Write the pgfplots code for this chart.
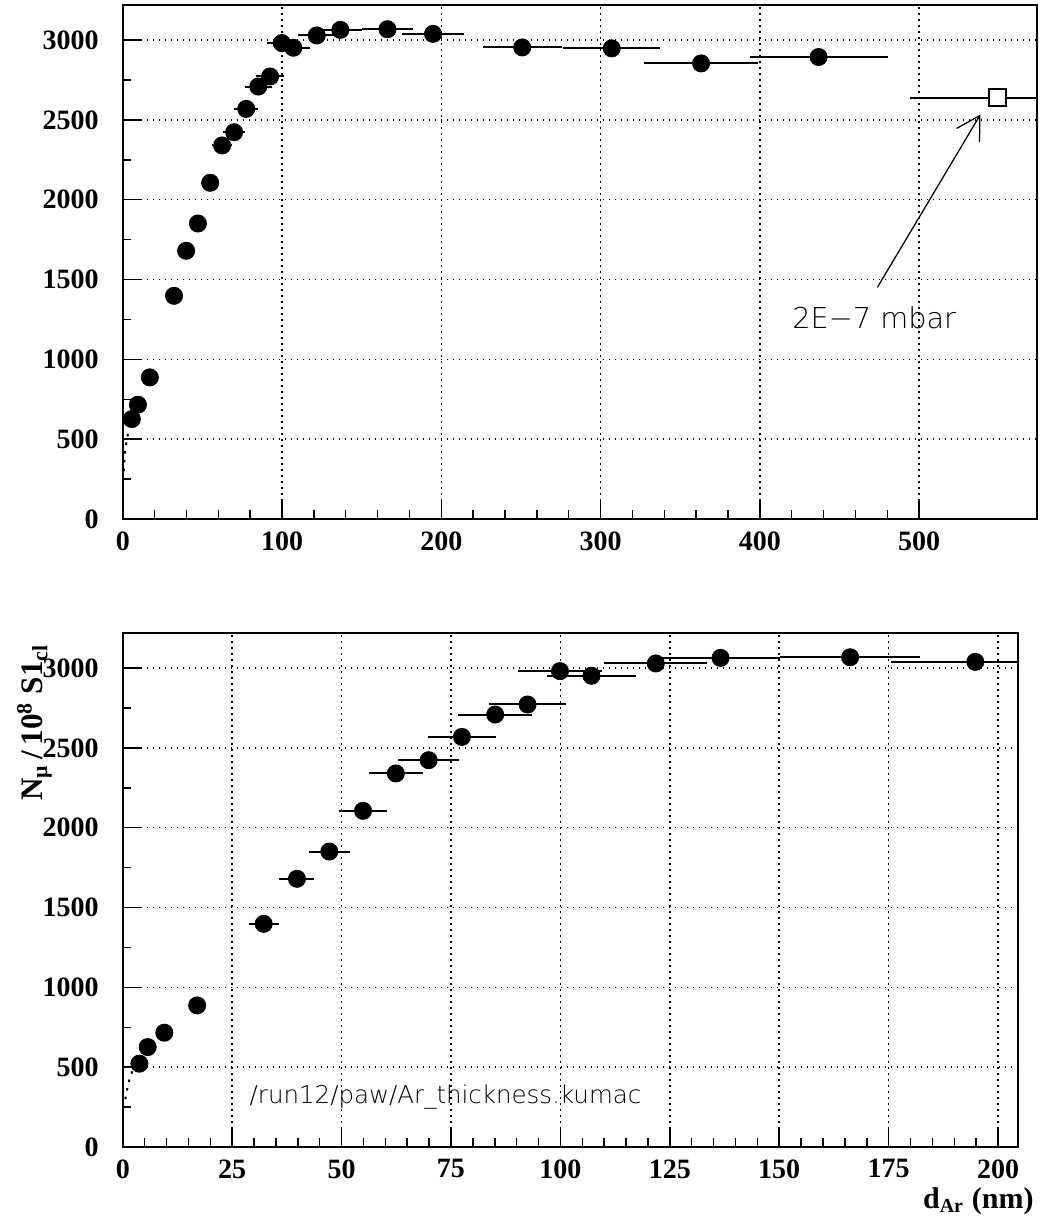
\documentclass[border=0pt]{standalone}
\usepackage{fontspec}
\setmainfont{Liberation Serif}
\newfontfamily\higz{DejaVu Sans ExtraLight}
\usepackage{pgfplots}
\pgfplotsset{compat=1.18}
\usepackage{pgfplotstable}
\usetikzlibrary{arrows.meta}

% muon yield vs. argon layer thickness: x = d_Ar (nm), y = N_mu/10^8 S1_cl, ex = half bin width
\pgfplotstableread{
x     y     ex
3.8   522   0.4
}\thinrun
\pgfplotstableread{
x     y     ex
5.7   626   0.6
9.5   716   1.0
17.0  887   1.7
32.2  1398  3.4
39.8  1680  4.0
47.2  1851  4.7
54.9  2106  5.5
62.4  2340  6.2
69.9  2423  7.0
77.5  2569  7.7
85.1  2709  8.4
92.5  2772  8.8
99.9  2981  9.5
107.1 2952  10.2
121.8 3029  11.8
136.6 3064  13.5
166.2 3068  16.0
194.8 3039  19.3
250.8 2954  24.7
307.0 2948  30.3
363.1 2854  36.0
436.9 2894  43.4
}\runs
% fit curve near zero thickness
\pgfplotstableread{
x    y
0.6  300
1.0  360
1.5  420
2.0  460
2.5  495
3.0  520
3.5  540
}\fitcurve

\pgfplotsset{
  paw/.style={
    scale only axis, anchor=south west,
    axis line style={line width=0.8pt},
    tick align=inside, tick pos=left,
    major tick length=7.2pt, minor tick length=3.4pt,
    every tick/.style={black, line width=0.6pt},
    grid=major,
    major grid style={black, line width=0.6pt, dash pattern=on 0.6pt off 1.8pt},
    ymin=0, ymax=3220, ytick={0,500,...,3000}, minor y tick num=1,
    scaled ticks=false,
    tick label style={font=\fontsize{11.2}{13}\selectfont\bfseries},
    /pgf/number format/assume math mode=true,
    /pgf/number format/1000 sep={},
    yticklabel style={inner sep=0pt, anchor=east, xshift=-9.5pt},
    xticklabel style={inner sep=0pt, anchor=north, yshift=-4.8pt},
  },
  pts/.style={only marks, mark=*, mark size=3.4pt, black,
    error bars/.cd, x dir=both, x explicit, error mark=none,
    error bar style={line width=0.8pt, black}},
  fit/.style={black, line width=0.8pt, dash pattern=on 1pt off 2.5pt},
}

\begin{document}
\begin{tikzpicture}
\useasboundingbox (0,0) rectangle (416.4pt,488.8pt);

% full thickness range
\begin{axis}[paw, at={(49.1pt,281.2pt)}, width=365.7pt, height=205.6pt,
  xmin=0, xmax=574, xtick={0,100,...,500}, minor x tick num=4]
  \addplot[fit] table[x=x, y=y] {\fitcurve};
  \addplot[pts] table[x=x, y=y, x error=ex] {\runs};
  \addplot[only marks, mark=square*, mark size=3.4pt,
    mark options={fill=white, draw=black, line width=0.8pt},
    error bars/.cd, x dir=both, x explicit, error mark=none,
    error bar style={line width=0.8pt, black}]
    coordinates {(549,2640) +- (55,0)};
  \draw[line width=0.5pt, -{Straight Barb[length=9.2pt, width=10.7pt, line width=0.5pt]}]
    (axis cs:473.8,1451) -- (axis cs:538.5,2534);
  \node[anchor=base west, inner sep=0pt, font=\higz\fontsize{11.5}{13}\selectfont]
    at (axis cs:420.1,1194) {2E−7 mbar};
\end{axis}

% zoom on the first 200 nm
\begin{axis}[paw, at={(49.1pt,30pt)}, width=358pt, height=205.6pt,
  xmin=0, xmax=204.5, xtick={0,25,...,200}, minor x tick num=4]
  \addplot[fit] table[x=x, y=y] {\fitcurve};
  \addplot[pts] table[x=x, y=y, x error=ex] {\thinrun};
  \addplot[pts] table[x=x, y=y, x error=ex] {\runs};
  \node[anchor=base west, inner sep=0pt, font=\higz\fontsize{9.8}{12}\selectfont]
    at (axis cs:28.9,274) {/run12/paw/Ar\_thickness.kumac};
\end{axis}

\node[rotate=90, anchor=base, inner sep=0pt, font=\fontsize{12.5}{14}\selectfont\bfseries]
  at (17pt,199.8pt) {N\textsubscript{μ}\,/\,10\textsuperscript{8} S1\textsubscript{cl}};
\node[anchor=base east, inner sep=0pt, font=\fontsize{12}{14}\selectfont\bfseries]
  at (413.6pt,5.6pt) {d\textsubscript{Ar} (nm)};
\end{tikzpicture}
\end{document}
